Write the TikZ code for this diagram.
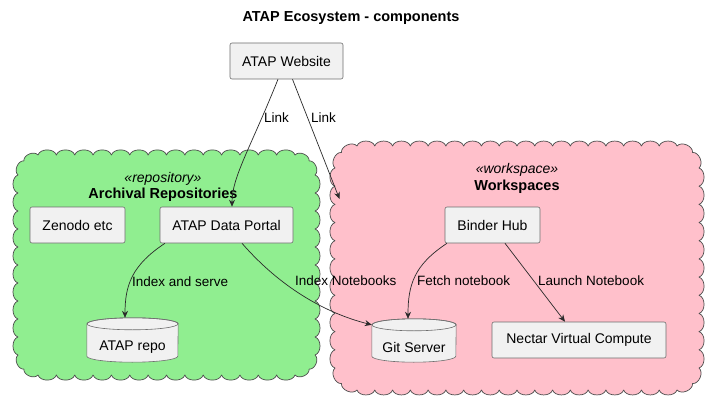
\documentclass[tikz,border=0pt]{standalone}
\usepackage{fontspec}
\setmainfont{Liberation Sans}
\usetikzlibrary{arrows.meta,calc}
\definecolor{boxfill}{HTML}{F1F1F1}
\definecolor{boxline}{HTML}{6E6E6E}
\definecolor{lnk}{HTML}{2A2A2A}
\definecolor{repogreen}{HTML}{90EE90}
\definecolor{wspink}{HTML}{FFC0CB}
\begin{document}
\begin{tikzpicture}[x=1pt,y=1pt,
  txt/.style={font=\fontsize{14}{16}\selectfont},
  boxnode/.style={txt, draw=boxline, fill=boxfill, line width=0.6pt, rounded corners=2pt, minimum height=36pt, inner sep=0pt},
  cylnode/.style={inner sep=0pt},
  cylpaint/.style={draw=boxline, fill=boxfill, line width=0.6pt},
  cloudline/.style={draw=black!70, line width=0.7pt, line join=round},
  bmp/.style={bend left=72},
  conn/.style={draw=lnk, line width=0.7pt, -{Stealth[length=7pt,width=6pt]}},
  elabel/.style={font=\fontsize{13.5}{15}\selectfont, anchor=west, inner sep=0pt},
  stereo/.style={font=\fontsize{14}{16}\selectfont\itshape, inner sep=0pt},
  cname/.style={font=\fontsize{14.5}{16}\selectfont\bfseries, inner sep=0pt}
]
\useasboundingbox (0,0) rectangle (720,405);
\fill[white] (0,0) rectangle (720,405);

% green cloud: base rounded rectangle x 18..315, y 30..250, R=20 (clockwise, bumps outward)
\path[cloudline, fill=repogreen] (38,250)
  \foreach \k in {1,...,14} { to[bmp] ({38+\k*257/14},250) }
  \foreach \a in {45,0} { to[bmp] ({295+20*cos(\a)},{230+20*sin(\a)}) }
  \foreach \k in {1,...,10} { to[bmp] (315,{230-\k*180/10}) }
  \foreach \a in {-45,-90} { to[bmp] ({295+20*cos(\a)},{50+20*sin(\a)}) }
  \foreach \k in {1,...,14} { to[bmp] ({295-\k*257/14},30) }
  \foreach \a in {225,180} { to[bmp] ({38+20*cos(\a)},{50+20*sin(\a)}) }
  \foreach \k in {1,...,10} { to[bmp] (18,{50+\k*180/10}) }
  \foreach \a in {135} { to[bmp] ({38+20*cos(\a)},{230+20*sin(\a)}) }
  to[bmp] cycle;

% pink cloud: base rounded rectangle x 335..699, y 15..259, R=22
\path[cloudline, fill=wspink] (357,259)
  \foreach \k in {1,...,18} { to[bmp] ({357+\k*320/18},259) }
  \foreach \a in {45,0} { to[bmp] ({677+22*cos(\a)},{237+22*sin(\a)}) }
  \foreach \k in {1,...,11} { to[bmp] (699,{237-\k*200/11}) }
  \foreach \a in {-45,-90} { to[bmp] ({677+22*cos(\a)},{37+22*sin(\a)}) }
  \foreach \k in {1,...,18} { to[bmp] ({677-\k*320/18},15) }
  \foreach \a in {225,180} { to[bmp] ({357+22*cos(\a)},{37+22*sin(\a)}) }
  \foreach \k in {1,...,11} { to[bmp] (335,{37+\k*200/11}) }
  \foreach \a in {135} { to[bmp] ({357+22*cos(\a)},{237+22*sin(\a)}) }
  to[bmp] cycle;

% title
\node[font=\fontsize{14.5}{16}\selectfont\bfseries] (title) at (351,387) {ATAP Ecosystem - components};

% cluster headings
\node[stereo] (repst) at (163,226) {«repository»};
\node[cname] (repnm) at (163,210) {Archival Repositories};
\node[stereo] (wsst) at (517,235) {«workspace»};
\node[cname] (wsnm) at (517,218) {Workspaces};

% boxes
\node[boxnode, minimum width=113pt] (web) at (286.5,344) {ATAP Website};
\node[boxnode, minimum width=95pt] (zen) at (77.5,180) {Zenodo etc};
\node[boxnode, minimum width=133pt] (portal) at (226.5,180) {ATAP Data Portal};
\node[boxnode, minimum width=95pt] (binder) at (492.5,180) {Binder Hub};
\node[boxnode, minimum width=174pt] (nectar) at (579,65) {Nectar Virtual Compute};

% cylinders
\node[cylnode, minimum width=91pt, minimum height=44pt] (repo) at (132.5,65) {};
\path[cylpaint] ([yshift=-6pt]repo.north west) -- ([yshift=6pt]repo.south west)
  arc[start angle=180, end angle=360, x radius=45.5pt, y radius=6pt]
  -- ([yshift=-6pt]repo.north east)
  arc[start angle=0, end angle=180, x radius=45.5pt, y radius=6pt] -- cycle;
\draw[boxline, line width=0.6pt] ([yshift=-6pt]repo.north) ellipse[x radius=45.5pt, y radius=6pt];
\node[txt, inner sep=0pt] (repotxt) at ([yshift=-7pt]repo.center) {ATAP repo};

\node[cylnode, minimum width=84pt, minimum height=43pt] (git) at (414,64.5) {};
\path[cylpaint] ([yshift=-6pt]git.north west) -- ([yshift=6pt]git.south west)
  arc[start angle=180, end angle=360, x radius=42pt, y radius=6pt]
  -- ([yshift=-6pt]git.north east)
  arc[start angle=0, end angle=180, x radius=42pt, y radius=6pt] -- cycle;
\draw[boxline, line width=0.6pt] ([yshift=-6pt]git.north) ellipse[x radius=42pt, y radius=6pt];
\node[txt, inner sep=0pt] (gittxt) at ([yshift=-7pt]git.center) {Git Server};

% free end on workspace cloud
\coordinate (wsin) at (339.5,206);

% connectors
\draw[conn] ([xshift=-8.5pt]web.south) .. controls (250,256) and (232,228) .. ([xshift=5.5pt]portal.north);
\draw[conn] ([xshift=6pt]web.south) -- (wsin);
\draw[conn] ([xshift=-61.5pt]portal.south) .. controls (132,140) and (125,120) .. ([xshift=-7.5pt]repo.north);
\draw[conn] ([xshift=15.5pt]portal.south) .. controls (280,118) and (325,92) .. ([yshift=-6pt]git.north west);
\draw[conn] ([xshift=-45.5pt]binder.south) .. controls (414,140) and (408,120) .. ([xshift=-6pt]git.north);
\draw[conn] ([xshift=12.5pt]binder.south) -- ([xshift=-14pt]nectar.north);

% edge labels
\node[elabel] (l1) at (264,287) {Link};
\node[elabel] (l2) at (311,287) {Link};
\node[elabel] (l3) at (132,123) {Index and serve};
\node[elabel] (l4) at (295,124) {Index Notebooks};
\node[elabel] (l5) at (417,124) {Fetch notebook};
\node[elabel] (l6) at (538,124) {Launch Notebook};
\end{tikzpicture}
\end{document}
